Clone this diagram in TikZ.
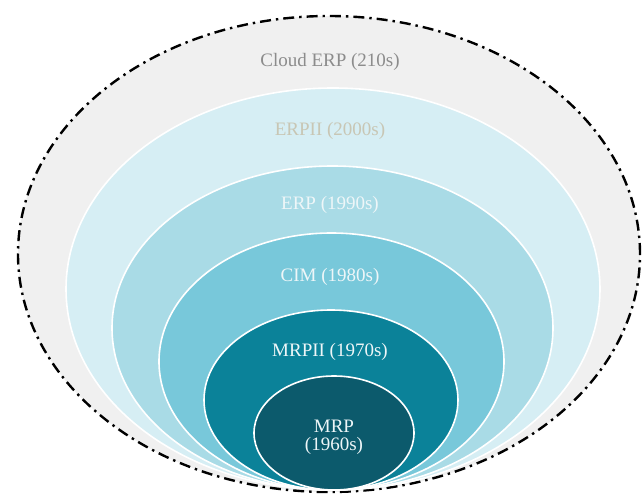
\documentclass[tikz,border=0pt]{standalone}
\usepackage{fontspec}
\setmainfont{Liberation Serif}
\usetikzlibrary{shapes.geometric}
\definecolor{cloudfill}{HTML}{F0F0F0}
\definecolor{erpiifill}{HTML}{D6EEF4}
\definecolor{erpfill}{HTML}{A9DBE6}
\definecolor{cimfill}{HTML}{78C8DA}
\definecolor{mrpiifill}{HTML}{0B8299}
\definecolor{mrpfill}{HTML}{0C5A6C}
\definecolor{cloudtext}{HTML}{8C8C8C}
\definecolor{erpiitext}{HTML}{C8C6B4}
\definecolor{lighttext}{HTML}{EEF6F8}
\tikzset{
era/.style={
	  draw=white, line width=1.6pt, ellipse, inner sep=0pt},
outerera/.style={
	  draw=black, line width=2.4pt, ellipse, inner sep=0pt,
	    dash pattern=on 11pt off 5pt on 2.4pt off 5pt},
eralabel/.style={
	  font=\fontsize{19}{18}\selectfont, text=lighttext, align=center}
}

\begin{document}
\begin{tikzpicture}[x=1pt, y=-1pt]
	\useasboundingbox (0,0) rectangle (643,495);
	\fill[white] (0,0) rectangle (643,495);
	\node[outerera, fill=cloudfill, minimum width=622pt, minimum height=476pt] (cloud) at (329,254) {};
	\node[era, fill=erpiifill, minimum width=534pt, minimum height=402pt] (erpii) at (333,289) {};
	\node[era, fill=erpfill, minimum width=441pt, minimum height=324pt] (erp) at (332.5,328) {};
	\node[era, fill=cimfill, minimum width=345pt, minimum height=257pt] (cim) at (331.5,361.5) {};
	\node[era, fill=mrpiifill, minimum width=254pt, minimum height=180pt] (mrpii) at (331,400) {};
	\node[era, fill=mrpfill, minimum width=160pt, minimum height=114pt] (mrp) at (334,433) {};
	\node[eralabel, text=cloudtext] (cloudlbl) at (330,62) {Cloud ERP (210s)};
	\node[eralabel, text=erpiitext] (erpiilbl) at (330,131) {ERPII (2000s)};
	\node[eralabel] (erplbl) at (330,205) {ERP (1990s)};
	\node[eralabel] (cimlbl) at (330,277) {CIM (1980s)};
	\node[eralabel] (mrpiilbl) at (330,352) {MRPII (1970s)};
	\node[eralabel] (mrplbl) at (334,437) {MRP\\(1960s)};
\end{tikzpicture}
\end{document}
